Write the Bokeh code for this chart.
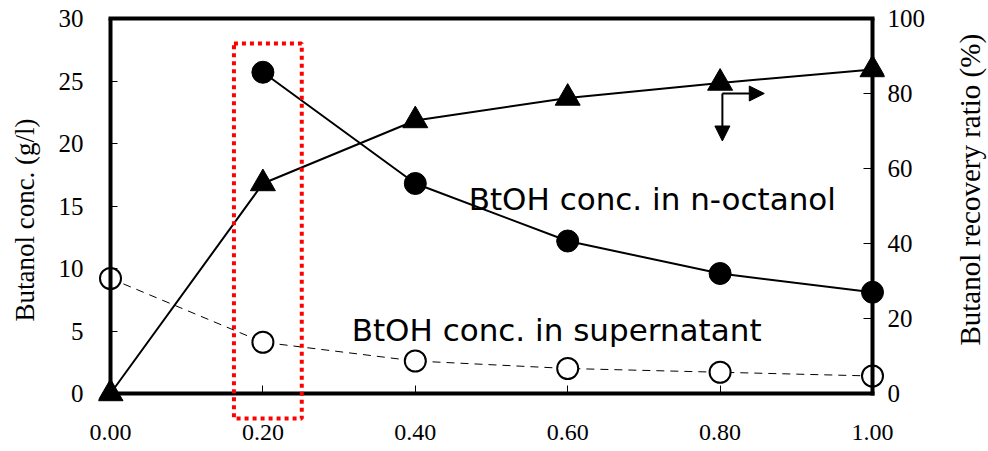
import math
from bokeh.plotting import figure
from bokeh.models import (LinearAxis, Range1d, FixedTicker, NumeralTickFormatter,
                          BoxAnnotation, Arrow, NormalHead, Label,
                          CustomLabelingPolicy)
from bokeh.embed import file_html
from bokeh.resources import INLINE

# ---- data ----
x_octanol = [0.2, 0.4, 0.6, 0.8, 1.0]
octanol_conc = [25.7, 16.8, 12.2, 9.6, 8.1]          # g/l, left axis
x_super = [0.0, 0.2, 0.4, 0.6, 0.8, 1.0]
super_conc = [9.2, 4.1, 2.6, 2.0, 1.7, 1.4]           # g/l, left axis
x_recovery = [0.0, 0.2, 0.4, 0.6, 0.8, 1.0]
recovery = [0.0, 56.0, 72.8, 78.8, 82.8, 86.4]        # %, right axis

x_ticks = [0.0, 0.2, 0.4, 0.6, 0.8, 1.0]
left_ticks = [0, 5, 10, 15, 20, 25, 30]
right_ticks = [0, 20, 40, 60, 80, 100]

label_octanol = "BtOH conc. in n-octanol"
label_super = "BtOH conc. in supernatant"
left_title = "Butanol conc. (g/l)"
right_title = "Butanol recovery ratio (%)"

SERIF = "Liberation Serif"
SANS = "DejaVu Sans"

# the frame is a little larger than the axis box so edge markers are not cut
xm = 12 / 762.0
y_lo = -2.24
p = figure(width=988, height=451, output_backend="svg", toolbar_location=None,
           x_range=Range1d(-xm, 1 + xm), y_range=Range1d(y_lo, 30),
           min_border_left=98, min_border_right=104, min_border_top=18,
           min_border_bottom=30, background_fill_color="white",
           border_fill_color="white")
p.outline_line_color = None
p.grid.visible = False
p.extra_y_ranges = {"right": Range1d(y_lo / 30 * 100, 100)}

NO_LABELS = CustomLabelingPolicy(code="if (false) { yield 0 }")


def lines_only(ax):
    ax.axis_line_width = 4
    ax.axis_line_cap = "square"
    ax.axis_line_color = "black"
    ax.major_tick_out = 0
    ax.minor_tick_line_color = None
    ax.major_label_policy = NO_LABELS
    ax.major_label_standoff = 0
    ax.major_label_text_font_size = "10px"
    ax.axis_label = None


def labels_only(ax):
    ax.axis_line_color = None
    ax.major_tick_line_color = None
    ax.minor_tick_line_color = None
    ax.major_tick_in = 0
    ax.major_tick_out = 0
    ax.major_label_text_color = "black"
    ax.major_label_text_font = SERIF
    ax.axis_label_text_font = SERIF
    ax.axis_label_text_font_style = "normal"
    ax.axis_label_text_color = "black"


# ---- x axis: labels at frame bottom, line + ticks at y = 0 ----
xa = p.xaxis[0]
xa.ticker = FixedTicker(ticks=x_ticks)
xa.formatter = NumeralTickFormatter(format="0.00")
labels_only(xa)
xa.major_label_standoff = 3
xa.major_label_text_font_size = "24px"

xl = LinearAxis(ticker=FixedTicker(ticks=x_ticks), bounds=(0, 1), fixed_location=0)
lines_only(xl)
xl.major_tick_in = 8
p.add_layout(xl, "below")

# ---- left axis ----
ya = p.yaxis[0]
ya.ticker = FixedTicker(ticks=left_ticks)
labels_only(ya)
ya.major_label_standoff = 15
ya.major_label_text_font_size = "25px"
ya.axis_label = left_title
ya.axis_label_text_font_size = "27px"
ya.axis_label_standoff = 16

yl = LinearAxis(ticker=FixedTicker(ticks=left_ticks), bounds=(0, 30), fixed_location=0)
lines_only(yl)
yl.major_tick_in = 7
p.add_layout(yl, "left")

# ---- right axis: tick labels ----
ra = LinearAxis(y_range_name="right", ticker=FixedTicker(ticks=right_ticks))
labels_only(ra)
ra.major_label_standoff = 3
ra.major_label_text_font_size = "25px"
p.add_layout(ra, "right")

# right axis line + ticks at x = 1
rl = LinearAxis(y_range_name="right", ticker=FixedTicker(ticks=right_ticks),
                bounds=(0, 100), fixed_location=1.0)
lines_only(rl)
rl.major_tick_in = 9
p.add_layout(rl, "right")

# right axis title, reading bottom-to-top
p.add_layout(Label(x=41, y=16.3, x_units="screen", y_units="data", text=right_title,
                   angle=math.pi / 2, text_align="center", text_baseline="middle",
                   text_font=SERIF, text_font_size="29px", text_color="black"),
             "right")

# ---- top border ----
ta = LinearAxis(ticker=FixedTicker(ticks=[]), bounds=(0, 1))
lines_only(ta)
ta.major_tick_in = 0
p.add_layout(ta, "above")

# ---- series ----
p.line(x_super, super_conc, line_color="black", line_width=1, line_dash="8 6")
p.line(x_octanol, octanol_conc, line_color="black", line_width=2)
p.line(x_recovery, recovery, line_color="black", line_width=2, y_range_name="right")

p.scatter(x_super, super_conc, marker="circle", size=21, fill_color="white",
          line_color="black", line_width=2)
p.scatter(x_octanol, octanol_conc, marker="circle", size=22, fill_color="black",
          line_color="black")
p.scatter(x_recovery, recovery, marker="triangle", size=25, fill_color="black",
          line_color="black", y_range_name="right")

# ---- red dotted box ----
p.add_layout(BoxAnnotation(left=0.162, right=0.251, top=28.0, bottom=-2.0,
                           fill_alpha=0, line_color="#ff0000", line_width=4,
                           line_dash="4 4", line_alpha=1))

# ---- axis-direction arrows ----
p.add_layout(Arrow(x_start=0.803, y_start=24.0, x_end=0.858, y_end=24.0,
                   line_width=2, line_color="black",
                   end=NormalHead(size=15, fill_color="black", line_color="black")))
p.add_layout(Arrow(x_start=0.803, y_start=24.0, x_end=0.803, y_end=20.2,
                   line_width=2, line_color="black",
                   end=NormalHead(size=15, fill_color="black", line_color="black")))

# ---- text annotations ----
p.add_layout(Label(x=0.47, y=15.6, text=label_octanol, text_font=SANS,
                   text_font_size="31px", text_color="black",
                   text_baseline="alphabetic", text_align="left"))
p.add_layout(Label(x=0.3165, y=5.05, text=label_super, text_font=SANS,
                   text_font_size="31px", text_color="black",
                   text_baseline="alphabetic", text_align="left"))

open("out.html", "w").write(file_html(p, INLINE))
